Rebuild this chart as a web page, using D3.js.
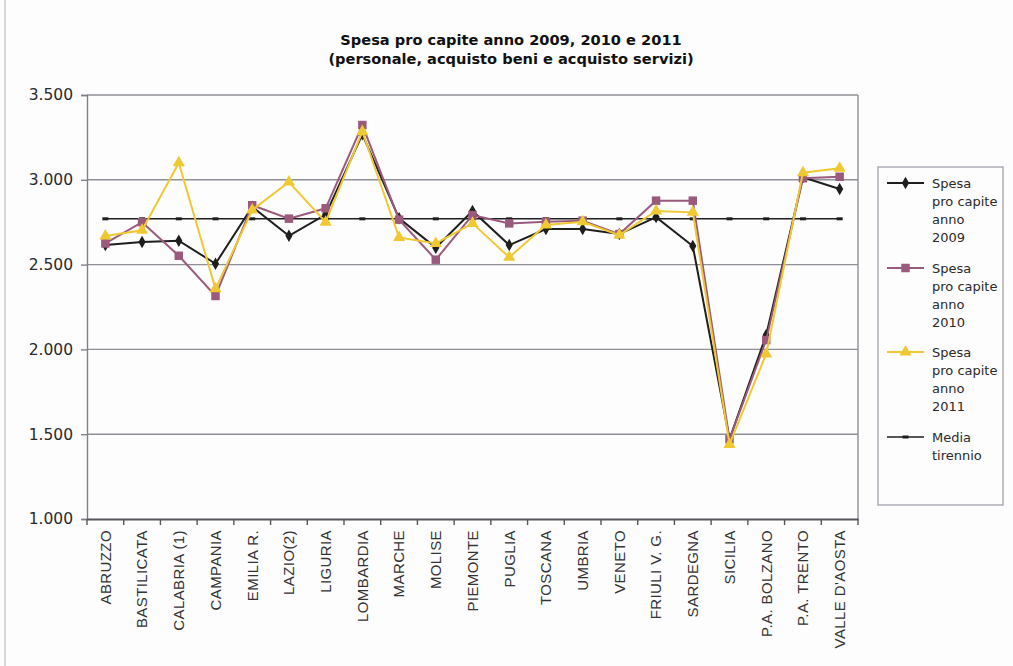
<!DOCTYPE html>
<html>
<head>
<meta charset="utf-8">
<script src="https://cdn.jsdelivr.net/npm/d3@7"></script>
<style>
  html, body { margin: 0; padding: 0; background: #fdfdfe; }
  svg { display: block; }
</style>
</head>
<body>
<script>
const categories = ["ABRUZZO","BASTILICATA","CALABRIA (1)","CAMPANIA","EMILIA R.","LAZIO(2)","LIGURIA","LOMBARDIA","MARCHE","MOLISE","PIEMONTE","PUGLIA","TOSCANA","UMBRIA","VENETO","FRIULI V. G.","SARDEGNA","SICILIA","P.A. BOLZANO","P.A. TRENTO","VALLE D'AOSTA"];
const spesa2009 = [2615, 2633, 2641, 2505, 2841, 2670, 2795, 3268, 2773, 2600, 2816, 2615, 2710, 2710, 2680, 2780, 2610, 1470, 2085, 3015, 2946];
const spesa2010 = [2625, 2750, 2552, 2315, 2850, 2771, 2832, 3323, 2765, 2529, 2792, 2743, 2753, 2759, 2680, 2877, 2877, 1470, 2055, 3009, 3018];
const spesa2011 = [2668, 2702, 3100, 2357, 2822, 2987, 2750, 3284, 2660, 2625, 2743, 2543, 2733, 2753, 2674, 2816, 2808, 1440, 1973, 3042, 3068];
const mediaTriennio = [2770, 2770, 2770, 2770, 2770, 2770, 2770, 2770, 2770, 2770, 2770, 2770, 2770, 2770, 2770, 2770, 2770, 2770, 2770, 2770, 2770];
const yTicks = [1000, 1500, 2000, 2500, 3000, 3500];
const titleLines = ["Spesa pro capite anno 2009, 2010 e 2011", "(personale, acquisto beni e acquisto servizi)"];

const series = [
  { name: ["Spesa", "pro capite", "anno", "2009"], values: spesa2009, color: "#1e1e1e", marker: "diamond" },
  { name: ["Spesa", "pro capite", "anno", "2010"], values: spesa2010, color: "#9a5a7c", marker: "square" },
  { name: ["Spesa", "pro capite", "anno", "2011"], values: spesa2011, color: "#f0c832", marker: "triangle" },
  { name: ["Media", "tirennio"], values: mediaTriennio, color: "#1e1e1e", marker: "dash" }
];

const W = 1013, H = 666;
const plot = { left: 87, right: 858, top: 95, bottom: 519 };

const svg = d3.select("body").append("svg").attr("width", W).attr("height", H);
svg.append("rect").attr("width", W).attr("height", H).attr("fill", "#fdfdfe");
svg.append("line").attr("x1", 5).attr("x2", 5).attr("y1", 0).attr("y2", H).attr("stroke", "#c8c8d0").attr("stroke-width", 1.5);

const x = d3.scaleBand().domain(categories).range([plot.left, plot.right]);
const y = d3.scaleLinear().domain([1000, 3500]).range([plot.bottom, plot.top]);
const itFmt = d3.formatLocale({ decimal: ",", thousands: ".", grouping: [3], currency: ["€", ""] }).format(",.0f");

// gridlines
svg.append("g").selectAll("line").data(yTicks.filter(t => t > 1000)).join("line")
  .attr("x1", plot.left).attr("x2", plot.right)
  .attr("y1", d => y(d)).attr("y2", d => y(d))
  .attr("stroke", "#8f8f96").attr("stroke-width", 1.4);
// right border
svg.append("line").attr("x1", plot.right).attr("x2", plot.right).attr("y1", plot.top).attr("y2", plot.bottom)
  .attr("stroke", "#8f8f96").attr("stroke-width", 1.4);

// y axis
const yAxis = svg.append("g").attr("transform", `translate(${plot.left},0)`)
  .call(d3.axisLeft(y).tickValues(yTicks).tickFormat(itFmt).tickSize(6).tickPadding(8));
yAxis.select(".domain").attr("stroke", "#808088").attr("stroke-width", 1.4);
yAxis.selectAll(".tick line").attr("stroke", "#808088").attr("stroke-width", 1.4);
yAxis.selectAll(".tick text").attr("font-family", "DejaVu Sans, Verdana, sans-serif").attr("font-size", 15.5).attr("fill", "#2a2a2a");

// x axis
const xAxis = svg.append("g").attr("transform", `translate(0,${plot.bottom})`)
  .call(d3.axisBottom(x).tickSize(0).tickPadding(0));
xAxis.select(".domain").attr("stroke", "#55555c").attr("stroke-width", 2);
xAxis.selectAll(".tick text")
  .attr("font-family", "Liberation Sans, Arial, sans-serif").attr("font-size", 15).attr("fill", "#333")
  .attr("letter-spacing", 0.4)
  .attr("transform", "rotate(-90)").attr("text-anchor", "end")
  .attr("x", -11).attr("y", 0).attr("dy", "0.36em");
// x tick marks at band boundaries
const bounds = categories.map(c => x(c)).concat([plot.right]);
svg.append("g").selectAll("line").data(bounds).join("line")
  .attr("x1", d => d).attr("x2", d => d).attr("y1", plot.bottom).attr("y2", plot.bottom + 6)
  .attr("stroke", "#55555c").attr("stroke-width", 1.4);

const cx = d => x(d) + x.bandwidth() / 2;

function drawMarker(g, type, color) {
  if (type === "diamond") {
    g.append("path").attr("d", d3.symbol(d3.symbolDiamond, 45)()).attr("fill", color);
  } else if (type === "square") {
    g.append("path").attr("d", d3.symbol(d3.symbolSquare, 72)()).attr("fill", color);
  } else if (type === "triangle") {
    g.append("path").attr("d", d3.symbol(d3.symbolTriangle, 64)()).attr("fill", color);
  } else {
    g.append("rect").attr("x", -3).attr("y", -1.5).attr("width", 6).attr("height", 3).attr("fill", color);
  }
}

// lines (draw media first)
const order = [3, 0, 1, 2];
order.forEach(i => {
  const s = series[i];
  const line = d3.line().x((d, j) => cx(categories[j])).y(d => y(d));
  svg.append("path").datum(s.values).attr("d", line)
    .attr("fill", "none").attr("stroke", s.color).attr("stroke-width", i === 3 ? 1.5 : 2);
  svg.append("g").selectAll("g").data(s.values).join("g")
    .attr("transform", (d, j) => `translate(${cx(categories[j])},${y(d)})`)
    .each(function () { drawMarker(d3.select(this), s.marker, s.color); });
});

// title
svg.append("g").selectAll("text").data(titleLines).join("text")
  .attr("x", 511).attr("y", (d, i) => 45 + i * 19)
  .attr("text-anchor", "middle")
  .attr("font-family", "DejaVu Sans, Verdana, sans-serif").attr("font-weight", "bold").attr("font-size", 14.6)
  .attr("fill", "#111").text(d => d);

// legend
const lg = svg.append("g");
lg.append("rect").attr("x", 878).attr("y", 167).attr("width", 125).attr("height", 338)
  .attr("fill", "none").attr("stroke", "#9a9aa2").attr("stroke-width", 1.2);
const itemY = [183, 268, 352, 437];
series.forEach((s, i) => {
  const g = lg.append("g").attr("transform", `translate(0,${itemY[i]})`);
  g.append("line").attr("x1", 887).attr("x2", 924).attr("y1", 0).attr("y2", 0)
    .attr("stroke", s.color).attr("stroke-width", i === 3 ? 1.5 : 2);
  const m = g.append("g").attr("transform", "translate(905.5,0)");
  drawMarker(m, s.marker, s.color);
  g.selectAll("text").data(s.name).join("text")
    .attr("x", 932).attr("y", (d, k) => k * 18).attr("dy", "0.35em")
    .attr("font-family", "DejaVu Sans, Verdana, sans-serif").attr("font-size", 13)
    .attr("fill", "#2a2a2a").text(d => d);
});
</script>
</body>
</html>
